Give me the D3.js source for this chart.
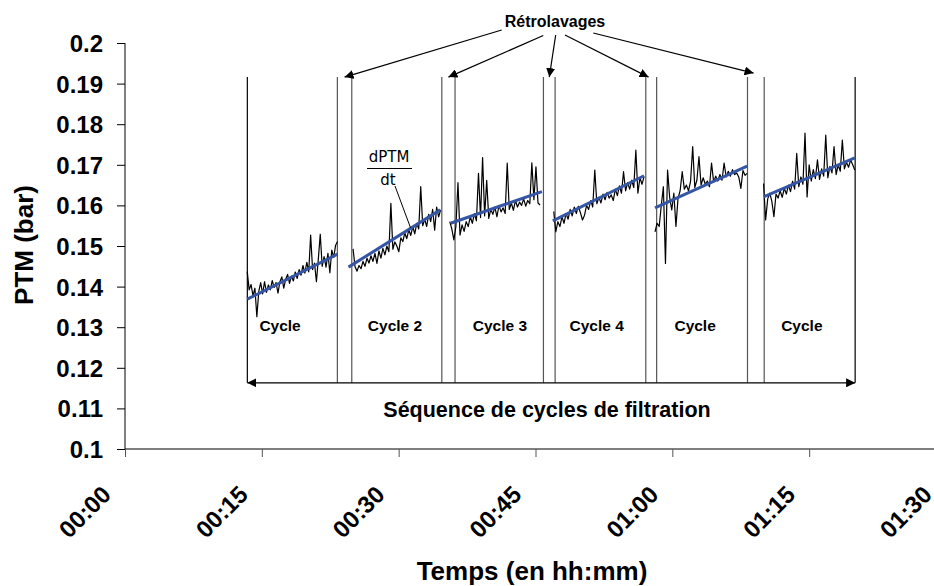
<!DOCTYPE html>
<html>
<head>
<meta charset="utf-8">
<script src="https://cdn.jsdelivr.net/npm/d3@7"></script>
<style>
  html, body { margin: 0; padding: 0; background: #fff; }
  svg { display: block; }
  text { font-family: "Liberation Sans", Arial, sans-serif; }
</style>
</head>
<body>
<svg id="chart" width="934" height="586"></svg>
<script>
// ---------------- data ----------------
const yTickValues = [0.1, 0.11, 0.12, 0.13, 0.14, 0.15, 0.16, 0.17, 0.18, 0.19, 0.2];
const yTickLabels = ["0.1", "0.11", "0.12", "0.13", "0.14", "0.15", "0.16", "0.17", "0.18", "0.19", "0.2"];
const xTickMinutes = [0, 15, 30, 45, 60, 75, 90];
const xTickLabels = ["00:00", "00:15", "00:30", "00:45", "01:00", "01:15", "01:30"];

const cycleLabels = ["Cycle", "Cycle 2", "Cycle 3", "Cycle 4", "Cycle", "Cycle"];
const cycleLabelTimes = [17.0, 29.6, 41.1, 51.7, 62.5, 74.2];

// measurement start / end time (minutes) of each cycle
const dataStart = [13.4, 25.0, 35.6, 47.0, 58.1, 70.0];
const dataEnd   = [23.3, 34.6, 45.5, 56.9, 68.2, 80.0];

// PTM readings (bar) for each cycle, evenly sampled between start and end
const cycle1 = [0.1437,0.1392,0.1405,0.1378,0.1396,0.1326,0.1388,0.1410,0.1382,0.1412,0.1386,0.1404,0.1392,0.1415,0.1398,0.1410,0.1384,0.1412,0.1424,0.1396,0.1418,0.1430,0.1408,0.1426,0.1414,0.1436,0.1420,0.1442,0.1428,0.1452,0.1433,0.1460,0.1436,0.1527,0.1442,0.1458,0.1412,0.1468,0.1529,0.1450,0.1474,0.1448,0.1482,0.1434,0.1490,0.1472,0.1502,0.1511];
const cycle2 = [0.1493,0.1449,0.1438,0.1452,0.1444,0.1462,0.1450,0.1470,0.1458,0.1476,0.1462,0.1482,0.1457,0.1488,0.1470,0.1494,0.1478,0.1500,0.1486,0.1605,0.1492,0.1510,0.1500,0.1486,0.1520,0.1511,0.1532,0.1518,0.1540,0.1526,0.1548,0.1530,0.1556,0.1542,0.1646,0.1550,0.1566,0.1548,0.1578,0.1560,0.1590,0.1539,0.1596,0.1572,0.1589];
const cycle3 = [0.1560,0.1542,0.1515,0.1548,0.1656,0.1527,0.1552,0.1536,0.1560,0.1548,0.1572,0.1556,0.1580,0.1562,0.1679,0.1570,0.1718,0.1574,0.1662,0.1568,0.1590,0.1578,0.1596,0.1572,0.1600,0.1584,0.1594,0.1580,0.1704,0.1590,0.1606,0.1588,0.1612,0.1596,0.1608,0.1600,0.1616,0.1598,0.1612,0.1604,0.1705,0.1614,0.1695,0.1606,0.1601];
const cycle4 = [0.1585,0.1535,0.1560,0.1548,0.1572,0.1556,0.1580,0.1566,0.1590,0.1574,0.1596,0.1580,0.1598,0.1582,0.1564,0.1576,0.1600,0.1590,0.1612,0.1596,0.1687,0.1604,0.1620,0.1606,0.1628,0.1614,0.1632,0.1618,0.1626,0.1612,0.1640,0.1624,0.1648,0.1630,0.1683,0.1636,0.1656,0.1640,0.1662,0.1644,0.1736,0.1630,0.1668,0.1652,0.1671];
const cycle5 = [0.1535,0.1556,0.1548,0.1600,0.1646,0.1457,0.1687,0.1620,0.1589,0.1630,0.1548,0.1618,0.1636,0.1683,0.1640,0.1650,0.1636,0.1660,0.1745,0.1644,0.1662,0.1720,0.1650,0.1668,0.1652,0.1660,0.1646,0.1704,0.1658,0.1672,0.1660,0.1676,0.1662,0.1704,0.1670,0.1684,0.1672,0.1688,0.1676,0.1680,0.1670,0.1642,0.1686,0.1674,0.1679];
const cycle6 = [0.1654,0.1564,0.1616,0.1630,0.1610,0.1572,0.1628,0.1618,0.1636,0.1620,0.1642,0.1628,0.1650,0.1634,0.1660,0.1640,0.1728,0.1646,0.1670,0.1652,0.1778,0.1621,0.1700,0.1660,0.1688,0.1666,0.1712,0.1664,0.1690,0.1672,0.1773,0.1668,0.1696,0.1680,0.1745,0.1676,0.1700,0.1684,0.1761,0.1690,0.1706,0.1694,0.1712,0.1700,0.1687];

// linear trend (dPTM/dt) of each cycle
const fitStartTime = [13.4, 24.5, 35.7, 46.9, 58.1, 70.0];
const fitEndTime   = [23.3, 34.55, 45.7, 56.9, 68.2, 80.0];
const fitStartValue = [0.1369, 0.1448, 0.1556, 0.1562, 0.1594, 0.1621];
const fitEndValue   = [0.1480, 0.1589, 0.1634, 0.1673, 0.1697, 0.1717];

// cycle boundaries (minutes): start line and end line of each cycle
const boundaryStart = [13.41, 24.86, 36.18, 47.15, 58.28, 70.07];
const boundaryEnd   = [23.28, 34.73, 45.87, 57.09, 68.24, 80.04];
const boundaryTop = 0.1916, boundaryBottom = 0.1163;

// ---------------- drawing ----------------
const svg = d3.select("#chart");
svg.append("rect").attr("width", 934).attr("height", 586).attr("fill", "#fff");

const x = d3.scaleLinear().domain([0, 90]).range([125, 946]);
const y = d3.scaleLinear().domain([0.1, 0.2]).range([449, 43]);

const defs = svg.append("defs");
defs.append("marker").attr("id", "arr").attr("viewBox", "0 0 10 10")
  .attr("refX", 10).attr("refY", 5).attr("markerWidth", 9).attr("markerHeight", 9)
  .attr("markerUnits", "userSpaceOnUse").attr("orient", "auto-start-reverse")
  .append("path").attr("d", "M0,0 L10,5 L0,10 Z").attr("fill", "#000");

// y axis
const yAxis = d3.axisLeft(y).tickValues(yTickValues).tickSize(8)
  .tickFormat((d, i) => yTickLabels[i]);
const gy = svg.append("g").attr("transform", "translate(125,0)").call(yAxis);
gy.select(".domain").attr("stroke", "#000").attr("d", "M0," + y(0.2) + "V" + y(0.1));
gy.selectAll(".tick line").attr("stroke", "#000");
gy.selectAll(".tick text").attr("x", -22).attr("dy", "0.35em")
  .style("font-size", "24px").style("font-weight", "bold").attr("fill", "#000");

// x axis
const xAxis = d3.axisBottom(x).tickValues(xTickMinutes).tickSize(8)
  .tickFormat((d, i) => xTickLabels[i]);
const gx = svg.append("g").attr("transform", "translate(0,449)").call(xAxis);
gx.select(".domain").attr("stroke", "#000").attr("d", "M" + x(0) + ",0H" + x(90));
gx.selectAll(".tick line").attr("stroke", "#555");
gx.selectAll(".tick text")
  .attr("text-anchor", "end").attr("x", null).attr("y", null).attr("dy", null)
  .attr("transform", "translate(-13,47) rotate(-45)")
  .style("font-size", "24px").style("font-weight", "bold").attr("fill", "#000");

// axis titles
svg.append("text").attr("transform", "translate(33,245) rotate(-90)")
  .attr("text-anchor", "middle").style("font-size", "26px").style("font-weight", "bold")
  .text("PTM (bar)");
svg.append("text").attr("x", 532).attr("y", 580)
  .attr("text-anchor", "middle").style("font-size", "26px").style("font-weight", "bold")
  .text("Temps (en hh:mm)");

// cycle boundary lines
const lines = svg.append("g");
boundaryStart.forEach((t, i) => {
  lines.append("line").attr("x1", x(t)).attr("x2", x(t))
    .attr("y1", y(boundaryTop)).attr("y2", y(boundaryBottom))
    .attr("stroke", i === 0 ? "#000" : "#555").attr("stroke-width", 1.2);
  const te = boundaryEnd[i];
  lines.append("line").attr("x1", x(te)).attr("x2", x(te))
    .attr("y1", y(boundaryTop)).attr("y2", y(boundaryBottom))
    .attr("stroke", i === 5 ? "#000" : "#555").attr("stroke-width", 1.2);
});

// sequence double arrow
svg.append("line").attr("x1", x(boundaryStart[0])).attr("x2", x(boundaryEnd[5]))
  .attr("y1", y(boundaryBottom)).attr("y2", y(boundaryBottom))
  .attr("stroke", "#000").attr("stroke-width", 1.2)
  .attr("marker-start", "url(#arr)").attr("marker-end", "url(#arr)");
svg.append("text").attr("x", 547).attr("y", 417).attr("text-anchor", "middle")
  .style("font-size", "21.5px").style("font-weight", "bold")
  .text("Séquence de cycles de filtration");

// data series
const cycles = [cycle1, cycle2, cycle3, cycle4, cycle5, cycle6];
const line = d3.line().x(d => x(d[0])).y(d => y(d[1]));
cycles.forEach((vals, c) => {
  const tScale = d3.scaleLinear().domain([0, vals.length - 1]).range([dataStart[c], dataEnd[c]]);
  const pts = vals.map((v, i) => [tScale(i), v]);
  svg.append("path").datum(pts).attr("d", line)
    .attr("fill", "none").attr("stroke", "#000").attr("stroke-width", 1.2)
    .attr("stroke-linejoin", "round");
});
cycles.forEach((vals, c) => {
  svg.append("path")
    .datum([[fitStartTime[c], fitStartValue[c]], [fitEndTime[c], fitEndValue[c]]])
    .attr("d", line).attr("fill", "none").attr("stroke", "#3555a5").attr("stroke-width", 3);
});

// cycle labels
cycleLabels.forEach((lab, i) => {
  svg.append("text").attr("x", x(cycleLabelTimes[i])).attr("y", 331)
    .attr("text-anchor", "middle").style("font-size", "15.5px").style("font-weight", "bold")
    .text(lab);
});

// dPTM/dt annotation
const ann = svg.append("g");
ann.append("text").attr("x", 389).attr("y", 162).attr("text-anchor", "middle")
  .style("font-size", "15px").style("font-family", "'DejaVu Sans', sans-serif").text("dPTM");
ann.append("line").attr("x1", 367).attr("x2", 412).attr("y1", 168.5).attr("y2", 168.5)
  .attr("stroke", "#000").attr("stroke-width", 1.2);
ann.append("text").attr("x", 388).attr("y", 185).attr("text-anchor", "middle")
  .style("font-size", "15px").style("font-family", "'DejaVu Sans', sans-serif").text("dt");
ann.append("line").attr("x1", 395).attr("y1", 186).attr("x2", x(31.3)).attr("y2", y(0.1545))
  .attr("stroke", "#000").attr("stroke-width", 1);

// Rétrolavages annotation
svg.append("text").attr("x", 555).attr("y", 27).attr("text-anchor", "middle")
  .style("font-size", "16px").style("font-weight", "bold").text("Rétrolavages");
const arrowSrc = [[501.7, 30], [543.3, 35.5], [555.7, 35], [565, 35], [593.3, 33]];
const arrowTargetTimes = [
  (boundaryEnd[0] + boundaryStart[1]) / 2,
  (boundaryEnd[1] + boundaryStart[2]) / 2,
  (boundaryEnd[2] + boundaryStart[3]) / 2,
  boundaryEnd[3] + 0.3,
  (boundaryEnd[4] + boundaryStart[5]) / 2 - 0.25
];
const arrowTipY = [y(boundaryTop), y(boundaryTop), y(boundaryTop), y(boundaryTop), y(boundaryTop) - 4];
arrowSrc.forEach((s, i) => {
  svg.append("line").attr("x1", s[0]).attr("y1", s[1])
    .attr("x2", x(arrowTargetTimes[i])).attr("y2", arrowTipY[i])
    .attr("stroke", "#000").attr("stroke-width", 1.2).attr("marker-end", "url(#arr)");
});
</script>
</body>
</html>
